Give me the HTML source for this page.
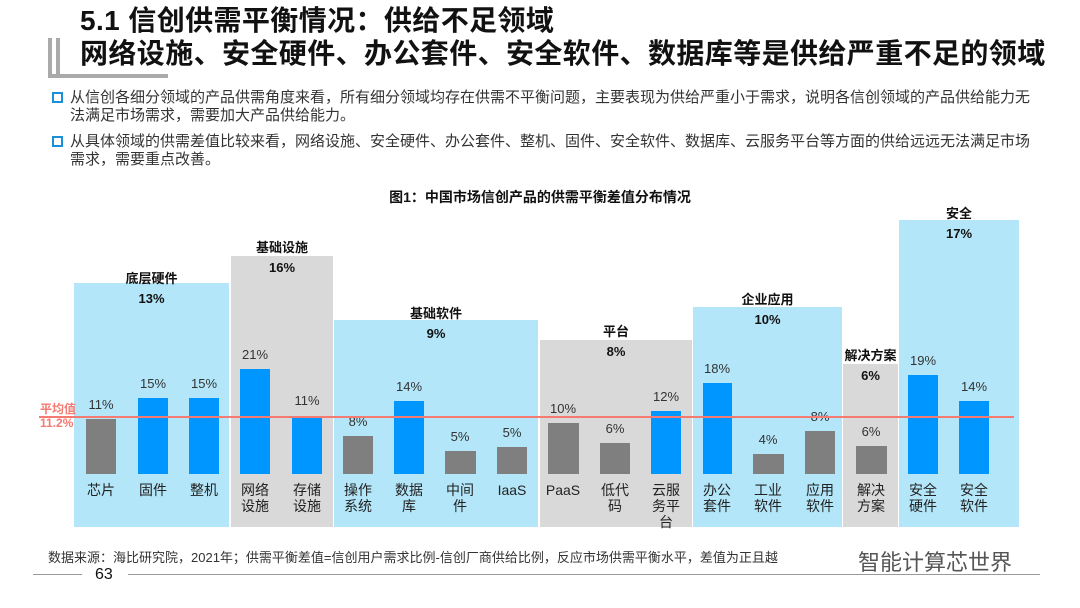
<!DOCTYPE html>
<html><head><meta charset="utf-8"><style>
*{margin:0;padding:0;box-sizing:border-box}
body{width:1080px;height:608px;background:#fff;position:relative;overflow:hidden;font-family:"Liberation Sans","Noto Sans CJK SC",sans-serif;color:#222}
.a{position:absolute;white-space:nowrap}
.t{font-weight:bold;font-size:28px;color:#111;left:80px;line-height:34px;letter-spacing:0.4px}
.b{font-size:15px;left:70px;line-height:18px;color:#333}
.sq{position:absolute;left:52px;width:11px;height:11px;border:2px solid #1b8fd8}
.p{position:absolute;bottom:81px}
.bl{background:#b3e6f8}.gr{background:#d9d9d9}
.bar{position:absolute;bottom:134px}
.bu{background:#0096ff}.gy{background:#7f7f7f}
.v{position:absolute;font-size:13px;text-align:center;width:60px;color:#333}
.c{position:absolute;font-size:14px;text-align:center;width:60px;line-height:16px;color:#222;top:482px}
.g{position:absolute;font-size:13px;font-weight:bold;text-align:center;color:#111}
</style></head><body>
<div style="position:absolute;left:48px;top:38px;width:4px;height:40px;background:#aaa"></div>
<div style="position:absolute;left:56px;top:38px;width:4px;height:36px;background:#aaa"></div>
<div style="position:absolute;left:48px;top:74px;width:120px;height:4px;background:#aaa"></div>
<div class="a t" style="top:4px">5.1 信创供需平衡情况：供给不足领域</div>
<div class="a t" style="top:37px">网络设施、安全硬件、办公套件、安全软件、数据库等是供给严重不足的领域</div>
<div class="sq" style="top:92px"></div>
<div class="a b" style="top:89px">从信创各细分领域的产品供需角度来看，所有细分领域均存在供需不平衡问题，主要表现为供给严重小于需求，说明各信创领域的产品供给能力无</div>
<div class="a b" style="top:107px">法满足市场需求，需要加大产品供给能力。</div>
<div class="sq" style="top:136px"></div>
<div class="a b" style="top:133px">从具体领域的供需差值比较来看，网络设施、安全硬件、办公套件、整机、固件、安全软件、数据库、云服务平台等方面的供给远远无法满足市场</div>
<div class="a b" style="top:151px">需求，需要重点改善。</div>
<div class="a" style="top:187px;left:0;width:1080px;text-align:center;font-size:14px;font-weight:bold;color:#111">图1：中国市场信创产品的供需平衡差值分布情况</div>

<div class="p bl" style="left:74px;width:155px;top:283px;bottom:81px"></div>
<div class="p gr" style="left:231px;width:102px;top:256px"></div>
<div class="p bl" style="left:334px;width:204px;top:320px"></div>
<div class="p gr" style="left:540px;width:152px;top:340px"></div>
<div class="p bl" style="left:693px;width:149px;top:307px"></div>
<div class="p gr" style="left:843px;width:55px;top:364px"></div>
<div class="p bl" style="left:899px;width:120px;top:220px"></div>

<div class="g" style="left:74px;width:155px;top:268px">底层硬件<br><span style="line-height:24px">13%</span></div>
<div class="g" style="left:231px;width:102px;top:237px">基础设施<br><span style="line-height:24px">16%</span></div>
<div class="g" style="left:334px;width:204px;top:303px">基础软件<br><span style="line-height:24px">9%</span></div>
<div class="g" style="left:540px;width:152px;top:321px">平台<br><span style="line-height:24px">8%</span></div>
<div class="g" style="left:693px;width:149px;top:289px">企业应用<br><span style="line-height:24px">10%</span></div>
<div class="g" style="left:843px;width:55px;top:345px">解决方案<br><span style="line-height:24px">6%</span></div>
<div class="g" style="left:899px;width:120px;top:203px">安全<br><span style="line-height:24px">17%</span></div>

<div class="bar gy" style="left:86px;width:30px;top:419px"></div>
<div class="bar bu" style="left:138px;width:30px;top:398px"></div>
<div class="bar bu" style="left:189px;width:30px;top:398px"></div>
<div class="bar bu" style="left:240px;width:30px;top:369px"></div>
<div class="bar bu" style="left:292px;width:30px;top:416px"></div>
<div class="bar gy" style="left:343px;width:30px;top:436px"></div>
<div class="bar bu" style="left:394px;width:30px;top:401px"></div>
<div class="bar gy" style="left:445px;width:31px;top:451px"></div>
<div class="bar gy" style="left:497px;width:30px;top:447px"></div>
<div class="bar gy" style="left:548px;width:31px;top:423px"></div>
<div class="bar gy" style="left:600px;width:30px;top:443px"></div>
<div class="bar bu" style="left:651px;width:30px;top:411px"></div>
<div class="bar bu" style="left:703px;width:29px;top:383px"></div>
<div class="bar gy" style="left:753px;width:31px;top:454px"></div>
<div class="bar gy" style="left:805px;width:30px;top:431px"></div>
<div class="bar gy" style="left:856px;width:31px;top:446px"></div>
<div class="bar bu" style="left:908px;width:30px;top:375px"></div>
<div class="bar bu" style="left:959px;width:30px;top:401px"></div>

<div class="v" style="left:71px;top:397px">11%</div>
<div class="v" style="left:123px;top:376px">15%</div>
<div class="v" style="left:174px;top:376px">15%</div>
<div class="v" style="left:225px;top:347px">21%</div>
<div class="v" style="left:277px;top:393px">11%</div>
<div class="v" style="left:328px;top:414px">8%</div>
<div class="v" style="left:379px;top:379px">14%</div>
<div class="v" style="left:430px;top:429px">5%</div>
<div class="v" style="left:482px;top:425px">5%</div>
<div class="v" style="left:533px;top:401px">10%</div>
<div class="v" style="left:585px;top:421px">6%</div>
<div class="v" style="left:636px;top:389px">12%</div>
<div class="v" style="left:687px;top:361px">18%</div>
<div class="v" style="left:738px;top:432px">4%</div>
<div class="v" style="left:790px;top:409px">8%</div>
<div class="v" style="left:841px;top:424px">6%</div>
<div class="v" style="left:893px;top:353px">19%</div>
<div class="v" style="left:944px;top:379px">14%</div>

<div class="a" style="left:39px;top:416px;width:975px;height:2px;background:#f47a72"></div>
<div class="a" style="left:40px;top:402px;font-size:12px;font-weight:bold;color:#f47a72;line-height:14px">平均值<br>11.2%</div>

<div class="c" style="left:71px">芯片</div>
<div class="c" style="left:123px">固件</div>
<div class="c" style="left:174px">整机</div>
<div class="c" style="left:225px">网络<br>设施</div>
<div class="c" style="left:277px">存储<br>设施</div>
<div class="c" style="left:328px">操作<br>系统</div>
<div class="c" style="left:379px">数据<br>库</div>
<div class="c" style="left:430px">中间<br>件</div>
<div class="c" style="left:482px">IaaS</div>
<div class="c" style="left:533px">PaaS</div>
<div class="c" style="left:585px">低代<br>码</div>
<div class="c" style="left:636px">云服<br>务平<br>台</div>
<div class="c" style="left:687px">办公<br>套件</div>
<div class="c" style="left:738px">工业<br>软件</div>
<div class="c" style="left:790px">应用<br>软件</div>
<div class="c" style="left:841px">解决<br>方案</div>
<div class="c" style="left:893px">安全<br>硬件</div>
<div class="c" style="left:944px">安全<br>软件</div>

<div class="a" style="left:48px;top:547px;font-size:13px;color:#333">数据来源：海比研究院，2021年；供需平衡差值=信创用户需求比例-信创厂商供给比例，反应市场供需平衡水平，差值为正且越</div>
<div class="a" style="left:858px;top:545px;font-size:22px;color:#555">智能计算芯世界</div>
<div class="a" style="left:33px;top:574px;width:49px;height:1px;background:#999"></div>
<div class="a" style="left:128px;top:574px;width:912px;height:1px;background:#999"></div>
<div class="a" style="left:95px;top:566px;font-size:16px;color:#111">63</div>
</body></html>
